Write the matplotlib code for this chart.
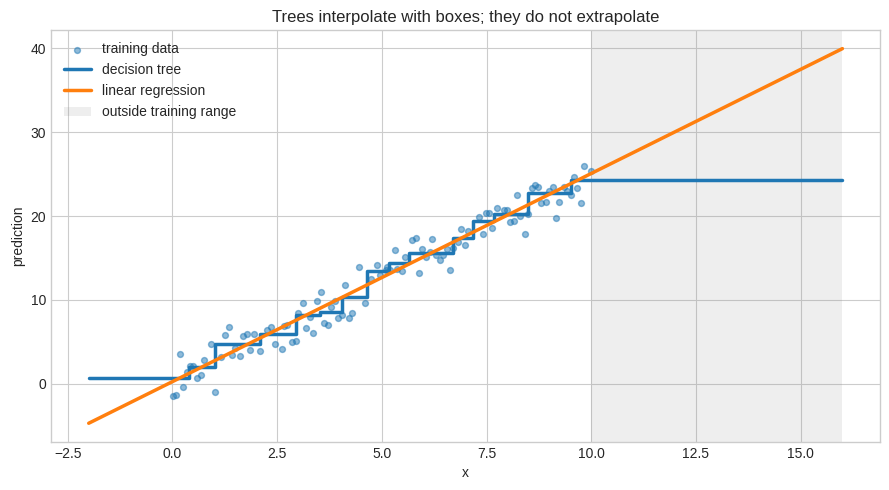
import numpy as np
import matplotlib
matplotlib.use("Agg")
import matplotlib.pyplot as plt

# training points
train_x = [0.02, 0.08, 0.17, 0.25, 0.34, 0.41, 0.50, 0.59, 0.68, 0.75,
           0.91, 1.01, 1.17, 1.25, 1.34, 1.42, 1.50, 1.61, 1.68, 1.77,
           1.85, 1.94, 2.10, 2.26, 2.36, 2.44, 2.61, 2.66, 2.74, 2.86,
           2.95, 3.01, 3.11, 3.18, 3.28, 3.35, 3.44, 3.54, 3.61, 3.71,
           3.78, 3.87, 3.95, 4.04, 4.11, 4.21, 4.28, 4.45, 4.61, 4.73,
           4.88, 4.96, 5.11, 5.12, 5.20, 5.31, 5.36, 5.48, 5.55, 5.71,
           5.81, 5.88, 5.97, 6.05, 6.14, 6.21, 6.29, 6.38, 6.47, 6.56,
           6.64, 6.71, 6.82, 6.88, 6.98, 7.05, 7.31, 7.41, 7.48, 7.57,
           7.64, 7.74, 7.91, 7.99, 8.07, 8.15, 8.24, 8.31, 8.41, 8.49,
           8.58, 8.65, 8.74, 8.81, 8.91, 9.00, 9.08, 9.17, 9.24, 9.34,
           9.43, 9.51, 9.58, 9.67, 9.75, 9.84, 10.00]
train_y = [-1.45, -1.35, 3.55, -0.40, 1.43, 2.10, 2.10, 0.68, 1.07, 2.83,
           4.74, -0.96, 3.20, 5.80, 6.80, 3.46, 4.30, 3.35, 5.70, 5.90,
           4.00, 5.90, 3.90, 6.40, 6.80, 4.75, 4.10, 6.90, 7.00, 5.00,
           5.10, 8.40, 9.60, 6.65, 8.00, 6.10, 9.90, 11.00, 7.30, 7.05,
           9.10, 9.90, 7.80, 8.20, 11.80, 7.80, 8.40, 13.90, 9.60, 12.50,
           14.20, 13.00, 13.60, 13.90, 13.60, 16.00, 13.70, 13.50, 15.10, 17.20,
           17.40, 13.20, 16.10, 15.10, 15.70, 17.30, 15.40, 14.70, 15.30, 16.10,
           13.60, 16.20, 16.90, 18.50, 16.50, 18.20, 19.90, 17.80, 20.40, 20.30,
           18.60, 20.90, 20.70, 20.70, 19.30, 19.40, 22.50, 20.00, 17.90, 20.20,
           23.30, 23.70, 23.50, 21.50, 21.70, 23.00, 23.50, 19.80, 21.70, 23.40,
           23.00, 22.50, 24.60, 23.30, 21.50, 26.00, 25.40]

# fitted tree: split thresholds and leaf values
tree_splits = [0.40, 1.01, 2.10, 2.96, 3.52, 4.05, 4.64, 5.16, 5.66,
               6.69, 7.18, 7.67, 8.49, 9.52]
tree_leaves = [0.7, 1.95, 4.8, 5.9, 8.2, 8.6, 10.4, 13.4, 14.4, 15.6,
               17.4, 19.4, 20.2, 22.7, 24.3]

# prediction range and linear fit end points
x_min, x_max = -2.0, 16.0
lin_y = [-4.7, 39.95]
train_max = 10.0

plt.style.use("seaborn-v0_8-whitegrid")
fig, ax = plt.subplots(figsize=(8.89, 4.9), dpi=100)

ax.axvspan(train_max, x_max, color="gray", alpha=0.13, lw=0,
           label="outside training range")
ax.scatter(train_x, train_y, s=18, alpha=0.5, color="C0",
           label="training data", zorder=3)

edges = [x_min] + tree_splits + [x_max]
vals = tree_leaves + [tree_leaves[-1]]
ax.plot(edges, vals, drawstyle="steps-post", color="C0", lw=2.5,
        label="decision tree", zorder=4)
ax.plot([x_min, x_max], lin_y, color="C1", lw=2.5,
        label="linear regression", zorder=5)

ax.set_title("Trees interpolate with boxes; they do not extrapolate")
ax.set_xlabel("x")
ax.set_ylabel("prediction")

h, l = ax.get_legend_handles_labels()
order = [l.index(n) for n in ["training data", "decision tree",
                              "linear regression", "outside training range"]]
ax.legend([h[i] for i in order], [l[i] for i in order], loc="upper left")

fig.subplots_adjust(left=0.0574, right=0.990, top=0.939, bottom=0.098)
fig.savefig("out.png")
